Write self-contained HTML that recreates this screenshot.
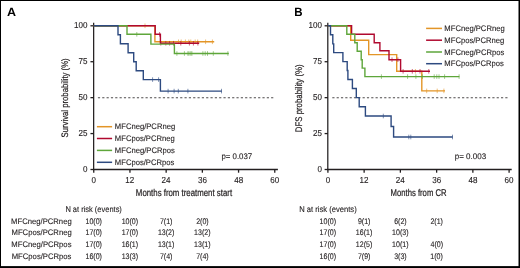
<!DOCTYPE html>
<html><head><meta charset="utf-8"><style>
html,body{margin:0;padding:0;background:#fff;}
svg{display:block;font-family:"Liberation Sans", sans-serif;will-change:transform;text-rendering:geometricPrecision;}
</style></head><body>
<svg width="520" height="268" viewBox="0 0 520 268">
<rect x="0" y="0" width="520" height="268" fill="#000"/>
<rect x="1" y="1" width="517.5" height="265.1" fill="#fff"/>
<line x1="93.65" y1="22.70" x2="93.65" y2="170.10" stroke="#231f20" stroke-width="1.25"/>
<line x1="93.10" y1="169.50" x2="277.90" y2="169.50" stroke="#231f20" stroke-width="1.3"/>
<line x1="90.45" y1="25.80" x2="93.75" y2="25.80" stroke="#231f20" stroke-width="1.3"/>
<line x1="90.45" y1="61.72" x2="93.75" y2="61.72" stroke="#231f20" stroke-width="1.3"/>
<line x1="90.45" y1="97.65" x2="93.75" y2="97.65" stroke="#231f20" stroke-width="1.3"/>
<line x1="90.45" y1="133.57" x2="93.75" y2="133.57" stroke="#231f20" stroke-width="1.3"/>
<line x1="90.45" y1="169.50" x2="93.75" y2="169.50" stroke="#231f20" stroke-width="1.3"/>
<line x1="93.75" y1="169.50" x2="93.75" y2="172.70" stroke="#231f20" stroke-width="1.3"/>
<line x1="129.95" y1="169.50" x2="129.95" y2="172.70" stroke="#231f20" stroke-width="1.3"/>
<line x1="166.16" y1="169.50" x2="166.16" y2="172.70" stroke="#231f20" stroke-width="1.3"/>
<line x1="202.36" y1="169.50" x2="202.36" y2="172.70" stroke="#231f20" stroke-width="1.3"/>
<line x1="238.57" y1="169.50" x2="238.57" y2="172.70" stroke="#231f20" stroke-width="1.3"/>
<line x1="274.77" y1="169.50" x2="274.77" y2="172.70" stroke="#231f20" stroke-width="1.3"/>
<line x1="97.9" y1="97.75" x2="273.3" y2="97.75" stroke="#231f20" stroke-width="1.2" stroke-dasharray="2.2 2.1300" opacity="0.8"/>
<text x="74.09" y="28.40" font-size="8.7" font-weight="normal" fill="#231f20" stroke="#231f20" stroke-width="0.12" textLength="13.43" lengthAdjust="spacingAndGlyphs">100</text>
<text x="78.59" y="64.32" font-size="8.7" font-weight="normal" fill="#231f20" stroke="#231f20" stroke-width="0.12" textLength="8.95" lengthAdjust="spacingAndGlyphs">75</text>
<text x="78.56" y="100.25" font-size="8.7" font-weight="normal" fill="#231f20" stroke="#231f20" stroke-width="0.12" textLength="8.95" lengthAdjust="spacingAndGlyphs">50</text>
<text x="78.59" y="136.17" font-size="8.7" font-weight="normal" fill="#231f20" stroke="#231f20" stroke-width="0.12" textLength="8.95" lengthAdjust="spacingAndGlyphs">25</text>
<text x="83.04" y="172.10" font-size="8.7" font-weight="normal" fill="#231f20" stroke="#231f20" stroke-width="0.12" textLength="4.48" lengthAdjust="spacingAndGlyphs">0</text>
<text x="91.51" y="182.60" font-size="8.7" font-weight="normal" fill="#231f20" stroke="#231f20" stroke-width="0.12" textLength="4.48" lengthAdjust="spacingAndGlyphs">0</text>
<text x="125.37" y="182.60" font-size="8.7" font-weight="normal" fill="#231f20" stroke="#231f20" stroke-width="0.12" textLength="8.95" lengthAdjust="spacingAndGlyphs">12</text>
<text x="161.60" y="182.60" font-size="8.7" font-weight="normal" fill="#231f20" stroke="#231f20" stroke-width="0.12" textLength="8.95" lengthAdjust="spacingAndGlyphs">24</text>
<text x="197.91" y="182.60" font-size="8.7" font-weight="normal" fill="#231f20" stroke="#231f20" stroke-width="0.12" textLength="8.95" lengthAdjust="spacingAndGlyphs">36</text>
<text x="234.17" y="182.60" font-size="8.7" font-weight="normal" fill="#231f20" stroke="#231f20" stroke-width="0.12" textLength="8.95" lengthAdjust="spacingAndGlyphs">48</text>
<text x="270.25" y="182.60" font-size="8.7" font-weight="normal" fill="#231f20" stroke="#231f20" stroke-width="0.12" textLength="8.95" lengthAdjust="spacingAndGlyphs">60</text>
<line x1="327.80" y1="22.70" x2="327.80" y2="170.10" stroke="#231f20" stroke-width="1.25"/>
<line x1="327.25" y1="169.50" x2="511.70" y2="169.50" stroke="#231f20" stroke-width="1.3"/>
<line x1="324.60" y1="25.80" x2="327.90" y2="25.80" stroke="#231f20" stroke-width="1.3"/>
<line x1="324.60" y1="61.72" x2="327.90" y2="61.72" stroke="#231f20" stroke-width="1.3"/>
<line x1="324.60" y1="97.65" x2="327.90" y2="97.65" stroke="#231f20" stroke-width="1.3"/>
<line x1="324.60" y1="133.57" x2="327.90" y2="133.57" stroke="#231f20" stroke-width="1.3"/>
<line x1="324.60" y1="169.50" x2="327.90" y2="169.50" stroke="#231f20" stroke-width="1.3"/>
<line x1="327.90" y1="169.50" x2="327.90" y2="172.70" stroke="#231f20" stroke-width="1.3"/>
<line x1="364.14" y1="169.50" x2="364.14" y2="172.70" stroke="#231f20" stroke-width="1.3"/>
<line x1="400.38" y1="169.50" x2="400.38" y2="172.70" stroke="#231f20" stroke-width="1.3"/>
<line x1="436.62" y1="169.50" x2="436.62" y2="172.70" stroke="#231f20" stroke-width="1.3"/>
<line x1="472.86" y1="169.50" x2="472.86" y2="172.70" stroke="#231f20" stroke-width="1.3"/>
<line x1="509.10" y1="169.50" x2="509.10" y2="172.70" stroke="#231f20" stroke-width="1.3"/>
<line x1="332.3" y1="97.75" x2="507.5" y2="97.75" stroke="#231f20" stroke-width="1.2" stroke-dasharray="2.2 2.1250" opacity="0.8"/>
<text x="308.49" y="28.40" font-size="8.7" font-weight="normal" fill="#231f20" stroke="#231f20" stroke-width="0.12" textLength="13.43" lengthAdjust="spacingAndGlyphs">100</text>
<text x="312.99" y="64.32" font-size="8.7" font-weight="normal" fill="#231f20" stroke="#231f20" stroke-width="0.12" textLength="8.95" lengthAdjust="spacingAndGlyphs">75</text>
<text x="312.96" y="100.25" font-size="8.7" font-weight="normal" fill="#231f20" stroke="#231f20" stroke-width="0.12" textLength="8.95" lengthAdjust="spacingAndGlyphs">50</text>
<text x="312.99" y="136.17" font-size="8.7" font-weight="normal" fill="#231f20" stroke="#231f20" stroke-width="0.12" textLength="8.95" lengthAdjust="spacingAndGlyphs">25</text>
<text x="317.44" y="172.10" font-size="8.7" font-weight="normal" fill="#231f20" stroke="#231f20" stroke-width="0.12" textLength="4.48" lengthAdjust="spacingAndGlyphs">0</text>
<text x="325.66" y="182.60" font-size="8.7" font-weight="normal" fill="#231f20" stroke="#231f20" stroke-width="0.12" textLength="4.48" lengthAdjust="spacingAndGlyphs">0</text>
<text x="359.56" y="182.60" font-size="8.7" font-weight="normal" fill="#231f20" stroke="#231f20" stroke-width="0.12" textLength="8.95" lengthAdjust="spacingAndGlyphs">12</text>
<text x="395.82" y="182.60" font-size="8.7" font-weight="normal" fill="#231f20" stroke="#231f20" stroke-width="0.12" textLength="8.95" lengthAdjust="spacingAndGlyphs">24</text>
<text x="432.17" y="182.60" font-size="8.7" font-weight="normal" fill="#231f20" stroke="#231f20" stroke-width="0.12" textLength="8.95" lengthAdjust="spacingAndGlyphs">36</text>
<text x="468.47" y="182.60" font-size="8.7" font-weight="normal" fill="#231f20" stroke="#231f20" stroke-width="0.12" textLength="8.95" lengthAdjust="spacingAndGlyphs">48</text>
<text x="504.58" y="182.60" font-size="8.7" font-weight="normal" fill="#231f20" stroke="#231f20" stroke-width="0.12" textLength="8.95" lengthAdjust="spacingAndGlyphs">60</text>
<text x="135.86" y="195.70" font-size="9.8" font-weight="normal" fill="#231f20" stroke="#231f20" stroke-width="0.22" textLength="96.20" lengthAdjust="spacingAndGlyphs">Months from treatment start</text>
<text x="390.57" y="195.70" font-size="9.8" font-weight="normal" fill="#231f20" stroke="#231f20" stroke-width="0.22" textLength="55.99" lengthAdjust="spacingAndGlyphs">Months from CR</text>
<g transform="translate(68.40,98.00) rotate(-90)"><text x="-39.45" y="0" font-size="9.4" font-weight="normal" fill="#231f20" stroke="#231f20" stroke-width="0.22" textLength="79.03" lengthAdjust="spacingAndGlyphs">Survival probability (%)</text></g>
<g transform="translate(302.40,98.20) rotate(-90)"><text x="-33.94" y="0" font-size="9.6" font-weight="normal" fill="#231f20" stroke="#231f20" stroke-width="0.22" textLength="67.73" lengthAdjust="spacingAndGlyphs">DFS probability (%)</text></g>
<text x="7.09" y="15.85" font-size="11.9" font-weight="bold" fill="#000" textLength="9.04" lengthAdjust="spacingAndGlyphs">A</text>
<text x="294.33" y="15.75" font-size="11.9" font-weight="bold" fill="#000" textLength="8.29" lengthAdjust="spacingAndGlyphs">B</text>
<line x1="96.90" y1="126.70" x2="112.10" y2="126.70" stroke="#e39527" stroke-width="1.5"/>
<text x="114.87" y="129.30" font-size="8.0" font-weight="normal" fill="#231f20" stroke="#231f20" stroke-width="0.12" textLength="60.30" lengthAdjust="spacingAndGlyphs">MFCneg/PCRneg</text>
<line x1="96.90" y1="138.50" x2="112.10" y2="138.50" stroke="#b0092f" stroke-width="1.5"/>
<text x="114.87" y="141.10" font-size="8.0" font-weight="normal" fill="#231f20" stroke="#231f20" stroke-width="0.12" textLength="59.87" lengthAdjust="spacingAndGlyphs">MFCpos/PCRneg</text>
<line x1="96.90" y1="150.40" x2="112.10" y2="150.40" stroke="#5ea63b" stroke-width="1.5"/>
<text x="114.87" y="153.00" font-size="8.0" font-weight="normal" fill="#231f20" stroke="#231f20" stroke-width="0.12" textLength="59.87" lengthAdjust="spacingAndGlyphs">MFCneg/PCRpos</text>
<line x1="96.90" y1="162.30" x2="112.10" y2="162.30" stroke="#2d4a80" stroke-width="1.5"/>
<text x="114.87" y="164.90" font-size="8.0" font-weight="normal" fill="#231f20" stroke="#231f20" stroke-width="0.12" textLength="59.44" lengthAdjust="spacingAndGlyphs">MFCpos/PCRpos</text>
<line x1="426.10" y1="28.40" x2="442.00" y2="28.40" stroke="#e39527" stroke-width="1.5"/>
<text x="444.37" y="31.00" font-size="8.0" font-weight="normal" fill="#231f20" stroke="#231f20" stroke-width="0.12" textLength="60.30" lengthAdjust="spacingAndGlyphs">MFCneg/PCRneg</text>
<line x1="426.10" y1="40.20" x2="442.00" y2="40.20" stroke="#b0092f" stroke-width="1.5"/>
<text x="444.37" y="42.80" font-size="8.0" font-weight="normal" fill="#231f20" stroke="#231f20" stroke-width="0.12" textLength="59.87" lengthAdjust="spacingAndGlyphs">MFCpos/PCRneg</text>
<line x1="426.10" y1="52.00" x2="442.00" y2="52.00" stroke="#5ea63b" stroke-width="1.5"/>
<text x="444.37" y="54.60" font-size="8.0" font-weight="normal" fill="#231f20" stroke="#231f20" stroke-width="0.12" textLength="59.87" lengthAdjust="spacingAndGlyphs">MFCneg/PCRpos</text>
<line x1="426.10" y1="63.70" x2="442.00" y2="63.70" stroke="#2d4a80" stroke-width="1.5"/>
<text x="444.37" y="66.30" font-size="8.0" font-weight="normal" fill="#231f20" stroke="#231f20" stroke-width="0.12" textLength="59.44" lengthAdjust="spacingAndGlyphs">MFCpos/PCRpos</text>
<text x="221.39" y="159.00" font-size="8.2" font-weight="normal" fill="#231f20" stroke="#231f20" stroke-width="0.12" textLength="30.80" lengthAdjust="spacingAndGlyphs">p= 0.037</text>
<text x="454.68" y="159.00" font-size="8.2" font-weight="normal" fill="#231f20" stroke="#231f20" stroke-width="0.12" textLength="31.47" lengthAdjust="spacingAndGlyphs">p= 0.003</text>
<text x="65.39" y="211.80" font-size="8.2" font-weight="normal" fill="#231f20" stroke="#231f20" stroke-width="0.12" textLength="56.48" lengthAdjust="spacingAndGlyphs">N at risk (events)</text>
<text x="299.18" y="211.80" font-size="8.2" font-weight="normal" fill="#231f20" stroke="#231f20" stroke-width="0.12" textLength="57.50" lengthAdjust="spacingAndGlyphs">N at risk (events)</text>
<text x="11.08" y="223.50" font-size="8.0" font-weight="normal" fill="#231f20" stroke="#231f20" stroke-width="0.12" textLength="60.61" lengthAdjust="spacingAndGlyphs">MFCneg/PCRneg</text>
<text x="11.52" y="235.20" font-size="8.0" font-weight="normal" fill="#231f20" stroke="#231f20" stroke-width="0.12" textLength="60.18" lengthAdjust="spacingAndGlyphs">MFCpos/PCRneg</text>
<text x="11.30" y="246.90" font-size="8.0" font-weight="normal" fill="#231f20" stroke="#231f20" stroke-width="0.12" textLength="60.18" lengthAdjust="spacingAndGlyphs">MFCneg/PCRpos</text>
<text x="11.73" y="258.60" font-size="8.0" font-weight="normal" fill="#231f20" stroke="#231f20" stroke-width="0.12" textLength="59.75" lengthAdjust="spacingAndGlyphs">MFCpos/PCRpos</text>
<text x="85.47" y="223.50" font-size="8.1" font-weight="normal" fill="#231f20" stroke="#231f20" stroke-width="0.12" textLength="16.45" lengthAdjust="spacingAndGlyphs">10(0)</text>
<text x="121.68" y="223.50" font-size="8.1" font-weight="normal" fill="#231f20" stroke="#231f20" stroke-width="0.12" textLength="16.45" lengthAdjust="spacingAndGlyphs">10(0)</text>
<text x="159.93" y="223.50" font-size="8.1" font-weight="normal" fill="#231f20" stroke="#231f20" stroke-width="0.12" textLength="12.53" lengthAdjust="spacingAndGlyphs">7(1)</text>
<text x="196.14" y="223.50" font-size="8.1" font-weight="normal" fill="#231f20" stroke="#231f20" stroke-width="0.12" textLength="12.53" lengthAdjust="spacingAndGlyphs">2(0)</text>
<text x="85.47" y="235.20" font-size="8.1" font-weight="normal" fill="#231f20" stroke="#231f20" stroke-width="0.12" textLength="16.45" lengthAdjust="spacingAndGlyphs">17(0)</text>
<text x="121.68" y="235.20" font-size="8.1" font-weight="normal" fill="#231f20" stroke="#231f20" stroke-width="0.12" textLength="16.45" lengthAdjust="spacingAndGlyphs">17(0)</text>
<text x="157.88" y="235.20" font-size="8.1" font-weight="normal" fill="#231f20" stroke="#231f20" stroke-width="0.12" textLength="16.45" lengthAdjust="spacingAndGlyphs">13(2)</text>
<text x="194.09" y="235.20" font-size="8.1" font-weight="normal" fill="#231f20" stroke="#231f20" stroke-width="0.12" textLength="16.45" lengthAdjust="spacingAndGlyphs">13(2)</text>
<text x="85.47" y="246.90" font-size="8.1" font-weight="normal" fill="#231f20" stroke="#231f20" stroke-width="0.12" textLength="16.45" lengthAdjust="spacingAndGlyphs">17(0)</text>
<text x="121.68" y="246.90" font-size="8.1" font-weight="normal" fill="#231f20" stroke="#231f20" stroke-width="0.12" textLength="16.45" lengthAdjust="spacingAndGlyphs">16(1)</text>
<text x="157.88" y="246.90" font-size="8.1" font-weight="normal" fill="#231f20" stroke="#231f20" stroke-width="0.12" textLength="16.45" lengthAdjust="spacingAndGlyphs">13(1)</text>
<text x="194.09" y="246.90" font-size="8.1" font-weight="normal" fill="#231f20" stroke="#231f20" stroke-width="0.12" textLength="16.45" lengthAdjust="spacingAndGlyphs">13(1)</text>
<text x="85.47" y="258.60" font-size="8.1" font-weight="normal" fill="#231f20" stroke="#231f20" stroke-width="0.12" textLength="16.45" lengthAdjust="spacingAndGlyphs">16(0)</text>
<text x="121.68" y="258.60" font-size="8.1" font-weight="normal" fill="#231f20" stroke="#231f20" stroke-width="0.12" textLength="16.45" lengthAdjust="spacingAndGlyphs">13(3)</text>
<text x="159.93" y="258.60" font-size="8.1" font-weight="normal" fill="#231f20" stroke="#231f20" stroke-width="0.12" textLength="12.53" lengthAdjust="spacingAndGlyphs">7(4)</text>
<text x="196.13" y="258.60" font-size="8.1" font-weight="normal" fill="#231f20" stroke="#231f20" stroke-width="0.12" textLength="12.53" lengthAdjust="spacingAndGlyphs">7(4)</text>
<text x="319.62" y="223.50" font-size="8.1" font-weight="normal" fill="#231f20" stroke="#231f20" stroke-width="0.12" textLength="16.45" lengthAdjust="spacingAndGlyphs">10(0)</text>
<text x="357.93" y="223.50" font-size="8.1" font-weight="normal" fill="#231f20" stroke="#231f20" stroke-width="0.12" textLength="12.53" lengthAdjust="spacingAndGlyphs">9(1)</text>
<text x="394.15" y="223.50" font-size="8.1" font-weight="normal" fill="#231f20" stroke="#231f20" stroke-width="0.12" textLength="12.53" lengthAdjust="spacingAndGlyphs">6(2)</text>
<text x="430.40" y="223.50" font-size="8.1" font-weight="normal" fill="#231f20" stroke="#231f20" stroke-width="0.12" textLength="12.53" lengthAdjust="spacingAndGlyphs">2(1)</text>
<text x="319.62" y="235.20" font-size="8.1" font-weight="normal" fill="#231f20" stroke="#231f20" stroke-width="0.12" textLength="16.45" lengthAdjust="spacingAndGlyphs">17(0)</text>
<text x="355.86" y="235.20" font-size="8.1" font-weight="normal" fill="#231f20" stroke="#231f20" stroke-width="0.12" textLength="16.45" lengthAdjust="spacingAndGlyphs">16(1)</text>
<text x="392.10" y="235.20" font-size="8.1" font-weight="normal" fill="#231f20" stroke="#231f20" stroke-width="0.12" textLength="16.45" lengthAdjust="spacingAndGlyphs">10(3)</text>
<text x="319.62" y="246.90" font-size="8.1" font-weight="normal" fill="#231f20" stroke="#231f20" stroke-width="0.12" textLength="16.45" lengthAdjust="spacingAndGlyphs">17(0)</text>
<text x="355.86" y="246.90" font-size="8.1" font-weight="normal" fill="#231f20" stroke="#231f20" stroke-width="0.12" textLength="16.45" lengthAdjust="spacingAndGlyphs">12(5)</text>
<text x="392.10" y="246.90" font-size="8.1" font-weight="normal" fill="#231f20" stroke="#231f20" stroke-width="0.12" textLength="16.45" lengthAdjust="spacingAndGlyphs">10(1)</text>
<text x="430.49" y="246.90" font-size="8.1" font-weight="normal" fill="#231f20" stroke="#231f20" stroke-width="0.12" textLength="12.53" lengthAdjust="spacingAndGlyphs">4(0)</text>
<text x="319.62" y="258.60" font-size="8.1" font-weight="normal" fill="#231f20" stroke="#231f20" stroke-width="0.12" textLength="16.45" lengthAdjust="spacingAndGlyphs">16(0)</text>
<text x="357.91" y="258.60" font-size="8.1" font-weight="normal" fill="#231f20" stroke="#231f20" stroke-width="0.12" textLength="12.53" lengthAdjust="spacingAndGlyphs">7(9)</text>
<text x="394.20" y="258.60" font-size="8.1" font-weight="normal" fill="#231f20" stroke="#231f20" stroke-width="0.12" textLength="12.53" lengthAdjust="spacingAndGlyphs">3(3)</text>
<text x="430.30" y="258.60" font-size="8.1" font-weight="normal" fill="#231f20" stroke="#231f20" stroke-width="0.12" textLength="12.53" lengthAdjust="spacingAndGlyphs">1(0)</text>
<path d="M93.75,25.8 H154.9 V41.8 H214.2" fill="none" stroke="#e39527" stroke-width="1.4" stroke-linejoin="miter" stroke-linecap="butt"/>
<line x1="145" y1="23.5" x2="145" y2="28.1" stroke="#e39527" stroke-width="1" opacity="0.6"/>
<line x1="178.5" y1="39.5" x2="178.5" y2="44.099999999999994" stroke="#e39527" stroke-width="1" opacity="0.6"/>
<line x1="181.2" y1="39.5" x2="181.2" y2="44.099999999999994" stroke="#e39527" stroke-width="1" opacity="0.6"/>
<line x1="185.4" y1="39.5" x2="185.4" y2="44.099999999999994" stroke="#e39527" stroke-width="1" opacity="0.6"/>
<line x1="188.8" y1="39.5" x2="188.8" y2="44.099999999999994" stroke="#e39527" stroke-width="1" opacity="0.6"/>
<line x1="190.8" y1="39.5" x2="190.8" y2="44.099999999999994" stroke="#e39527" stroke-width="1" opacity="0.6"/>
<line x1="195.2" y1="39.5" x2="195.2" y2="44.099999999999994" stroke="#e39527" stroke-width="1" opacity="0.6"/>
<line x1="197.7" y1="39.5" x2="197.7" y2="44.099999999999994" stroke="#e39527" stroke-width="1" opacity="0.6"/>
<line x1="205.6" y1="39.5" x2="205.6" y2="44.099999999999994" stroke="#e39527" stroke-width="1" opacity="0.6"/>
<line x1="212.4" y1="39.5" x2="212.4" y2="44.099999999999994" stroke="#e39527" stroke-width="1" opacity="0.6"/>
<path d="M93.75,25.8 H155.2 V34.3 H160.4 V43.25 H199.2" fill="none" stroke="#b0092f" stroke-width="1.4" stroke-linejoin="miter" stroke-linecap="butt"/>
<line x1="159.6" y1="31.999999999999996" x2="159.6" y2="36.599999999999994" stroke="#b0092f" stroke-width="1" opacity="0.6"/>
<line x1="160.8" y1="40.95" x2="160.8" y2="45.55" stroke="#b0092f" stroke-width="1" opacity="0.6"/>
<line x1="165.8" y1="40.95" x2="165.8" y2="45.55" stroke="#b0092f" stroke-width="1" opacity="0.6"/>
<line x1="169.6" y1="40.95" x2="169.6" y2="45.55" stroke="#b0092f" stroke-width="1" opacity="0.6"/>
<line x1="173.5" y1="40.95" x2="173.5" y2="45.55" stroke="#b0092f" stroke-width="1" opacity="0.6"/>
<line x1="180.8" y1="40.95" x2="180.8" y2="45.55" stroke="#b0092f" stroke-width="1" opacity="0.6"/>
<line x1="189.4" y1="40.95" x2="189.4" y2="45.55" stroke="#b0092f" stroke-width="1" opacity="0.6"/>
<line x1="193.4" y1="40.95" x2="193.4" y2="45.55" stroke="#b0092f" stroke-width="1" opacity="0.6"/>
<line x1="197.9" y1="40.95" x2="197.9" y2="45.55" stroke="#b0092f" stroke-width="1" opacity="0.6"/>
<path d="M93.75,25.8 H127 V34.3 H150.9 V44.1 H174.4 V53.5 H228.8" fill="none" stroke="#5ea63b" stroke-width="1.4" stroke-linejoin="miter" stroke-linecap="butt"/>
<line x1="136.8" y1="31.999999999999996" x2="136.8" y2="36.599999999999994" stroke="#5ea63b" stroke-width="1" opacity="0.6"/>
<line x1="176.9" y1="51.2" x2="176.9" y2="55.8" stroke="#5ea63b" stroke-width="1" opacity="0.6"/>
<line x1="184.4" y1="51.2" x2="184.4" y2="55.8" stroke="#5ea63b" stroke-width="1" opacity="0.6"/>
<line x1="187.9" y1="51.2" x2="187.9" y2="55.8" stroke="#5ea63b" stroke-width="1" opacity="0.6"/>
<line x1="189" y1="51.2" x2="189" y2="55.8" stroke="#5ea63b" stroke-width="1" opacity="0.6"/>
<line x1="190.8" y1="51.2" x2="190.8" y2="55.8" stroke="#5ea63b" stroke-width="1" opacity="0.6"/>
<line x1="191.9" y1="51.2" x2="191.9" y2="55.8" stroke="#5ea63b" stroke-width="1" opacity="0.6"/>
<line x1="202.9" y1="51.2" x2="202.9" y2="55.8" stroke="#5ea63b" stroke-width="1" opacity="0.6"/>
<line x1="205.2" y1="51.2" x2="205.2" y2="55.8" stroke="#5ea63b" stroke-width="1" opacity="0.6"/>
<line x1="207.5" y1="51.2" x2="207.5" y2="55.8" stroke="#5ea63b" stroke-width="1" opacity="0.6"/>
<line x1="213.3" y1="51.2" x2="213.3" y2="55.8" stroke="#5ea63b" stroke-width="1" opacity="0.6"/>
<line x1="227.9" y1="51.2" x2="227.9" y2="55.8" stroke="#5ea63b" stroke-width="1" opacity="0.6"/>
<path d="M93.75,25.8 H118 V34.8 H120.4 V43.8 H128.1 V52.8 H133.7 V61.8 H136.2 V70.8 H143.3 V79.6 H160.4 V91.1 H221.8" fill="none" stroke="#2d4a80" stroke-width="1.4" stroke-linejoin="miter" stroke-linecap="butt"/>
<line x1="152.6" y1="77.3" x2="152.6" y2="81.89999999999999" stroke="#2d4a80" stroke-width="1" opacity="0.6"/>
<line x1="158.6" y1="77.3" x2="158.6" y2="81.89999999999999" stroke="#2d4a80" stroke-width="1" opacity="0.6"/>
<line x1="168.1" y1="88.8" x2="168.1" y2="93.39999999999999" stroke="#2d4a80" stroke-width="1" opacity="0.6"/>
<line x1="174.1" y1="88.8" x2="174.1" y2="93.39999999999999" stroke="#2d4a80" stroke-width="1" opacity="0.6"/>
<line x1="178.3" y1="88.8" x2="178.3" y2="93.39999999999999" stroke="#2d4a80" stroke-width="1" opacity="0.6"/>
<line x1="187.9" y1="88.8" x2="187.9" y2="93.39999999999999" stroke="#2d4a80" stroke-width="1" opacity="0.6"/>
<line x1="221.5" y1="88.8" x2="221.5" y2="93.39999999999999" stroke="#2d4a80" stroke-width="1" opacity="0.6"/>
<path d="M327.9,25.8 H350.7 V40.3 H368.7 V54.6 H396.7 V71.3 H421.8 V90.9 H445" fill="none" stroke="#e39527" stroke-width="1.4" stroke-linejoin="miter" stroke-linecap="butt"/>
<line x1="415.4" y1="69.0" x2="415.4" y2="73.6" stroke="#e39527" stroke-width="1" opacity="0.6"/>
<line x1="426.7" y1="88.60000000000001" x2="426.7" y2="93.2" stroke="#e39527" stroke-width="1" opacity="0.6"/>
<line x1="437.2" y1="88.60000000000001" x2="437.2" y2="93.2" stroke="#e39527" stroke-width="1" opacity="0.6"/>
<line x1="443.9" y1="88.60000000000001" x2="443.9" y2="93.2" stroke="#e39527" stroke-width="1" opacity="0.6"/>
<path d="M327.9,25.8 H351.6 V34.3 H374.2 V42.7 H379.9 V50.7 H389.0 V59.7 H400.6 V71.3 H430" fill="none" stroke="#b0092f" stroke-width="1.4" stroke-linejoin="miter" stroke-linecap="butt"/>
<line x1="392" y1="57.400000000000006" x2="392" y2="62.0" stroke="#b0092f" stroke-width="1" opacity="0.6"/>
<line x1="397.9" y1="57.400000000000006" x2="397.9" y2="62.0" stroke="#b0092f" stroke-width="1" opacity="0.6"/>
<line x1="403.1" y1="69.0" x2="403.1" y2="73.6" stroke="#b0092f" stroke-width="1" opacity="0.6"/>
<line x1="412.3" y1="69.0" x2="412.3" y2="73.6" stroke="#b0092f" stroke-width="1" opacity="0.6"/>
<line x1="420" y1="69.0" x2="420" y2="73.6" stroke="#b0092f" stroke-width="1" opacity="0.6"/>
<line x1="428.8" y1="69.0" x2="428.8" y2="73.6" stroke="#b0092f" stroke-width="1" opacity="0.6"/>
<path d="M327.9,25.8 H346.8 V34.3 H354.8 V42.8 H357.2 V51.2 H361.2 V59.7 H362.2 V68.1 H364.9 V76.6 H459.4" fill="none" stroke="#5ea63b" stroke-width="1.4" stroke-linejoin="miter" stroke-linecap="butt"/>
<line x1="381.4" y1="74.3" x2="381.4" y2="78.89999999999999" stroke="#5ea63b" stroke-width="1" opacity="0.6"/>
<line x1="407.6" y1="74.3" x2="407.6" y2="78.89999999999999" stroke="#5ea63b" stroke-width="1" opacity="0.6"/>
<line x1="415.9" y1="74.3" x2="415.9" y2="78.89999999999999" stroke="#5ea63b" stroke-width="1" opacity="0.6"/>
<line x1="422.4" y1="74.3" x2="422.4" y2="78.89999999999999" stroke="#5ea63b" stroke-width="1" opacity="0.6"/>
<line x1="434.2" y1="74.3" x2="434.2" y2="78.89999999999999" stroke="#5ea63b" stroke-width="1" opacity="0.6"/>
<line x1="436.8" y1="74.3" x2="436.8" y2="78.89999999999999" stroke="#5ea63b" stroke-width="1" opacity="0.6"/>
<line x1="439" y1="74.3" x2="439" y2="78.89999999999999" stroke="#5ea63b" stroke-width="1" opacity="0.6"/>
<line x1="444.6" y1="74.3" x2="444.6" y2="78.89999999999999" stroke="#5ea63b" stroke-width="1" opacity="0.6"/>
<line x1="459.1" y1="74.3" x2="459.1" y2="78.89999999999999" stroke="#5ea63b" stroke-width="1" opacity="0.6"/>
<path d="M327.9,25.8 H330.5 V34.7 H332.8 V43.9 H333.7 V52.6 H342.9 V61.6 H347.2 V70.5 H347.9 V79.5 H352.4 V88.5 H356.3 V97.6 H359.2 V106.7 H365.4 V116 H391.1 V126.5 H393.6 V137 H452.7" fill="none" stroke="#2d4a80" stroke-width="1.4" stroke-linejoin="miter" stroke-linecap="butt"/>
<line x1="383.3" y1="113.7" x2="383.3" y2="118.3" stroke="#2d4a80" stroke-width="1" opacity="0.6"/>
<line x1="408.8" y1="134.7" x2="408.8" y2="139.3" stroke="#2d4a80" stroke-width="1" opacity="0.6"/>
<line x1="410.8" y1="134.7" x2="410.8" y2="139.3" stroke="#2d4a80" stroke-width="1" opacity="0.6"/>
<line x1="452.5" y1="134.7" x2="452.5" y2="139.3" stroke="#2d4a80" stroke-width="1" opacity="0.6"/>
</svg>
</body></html>
